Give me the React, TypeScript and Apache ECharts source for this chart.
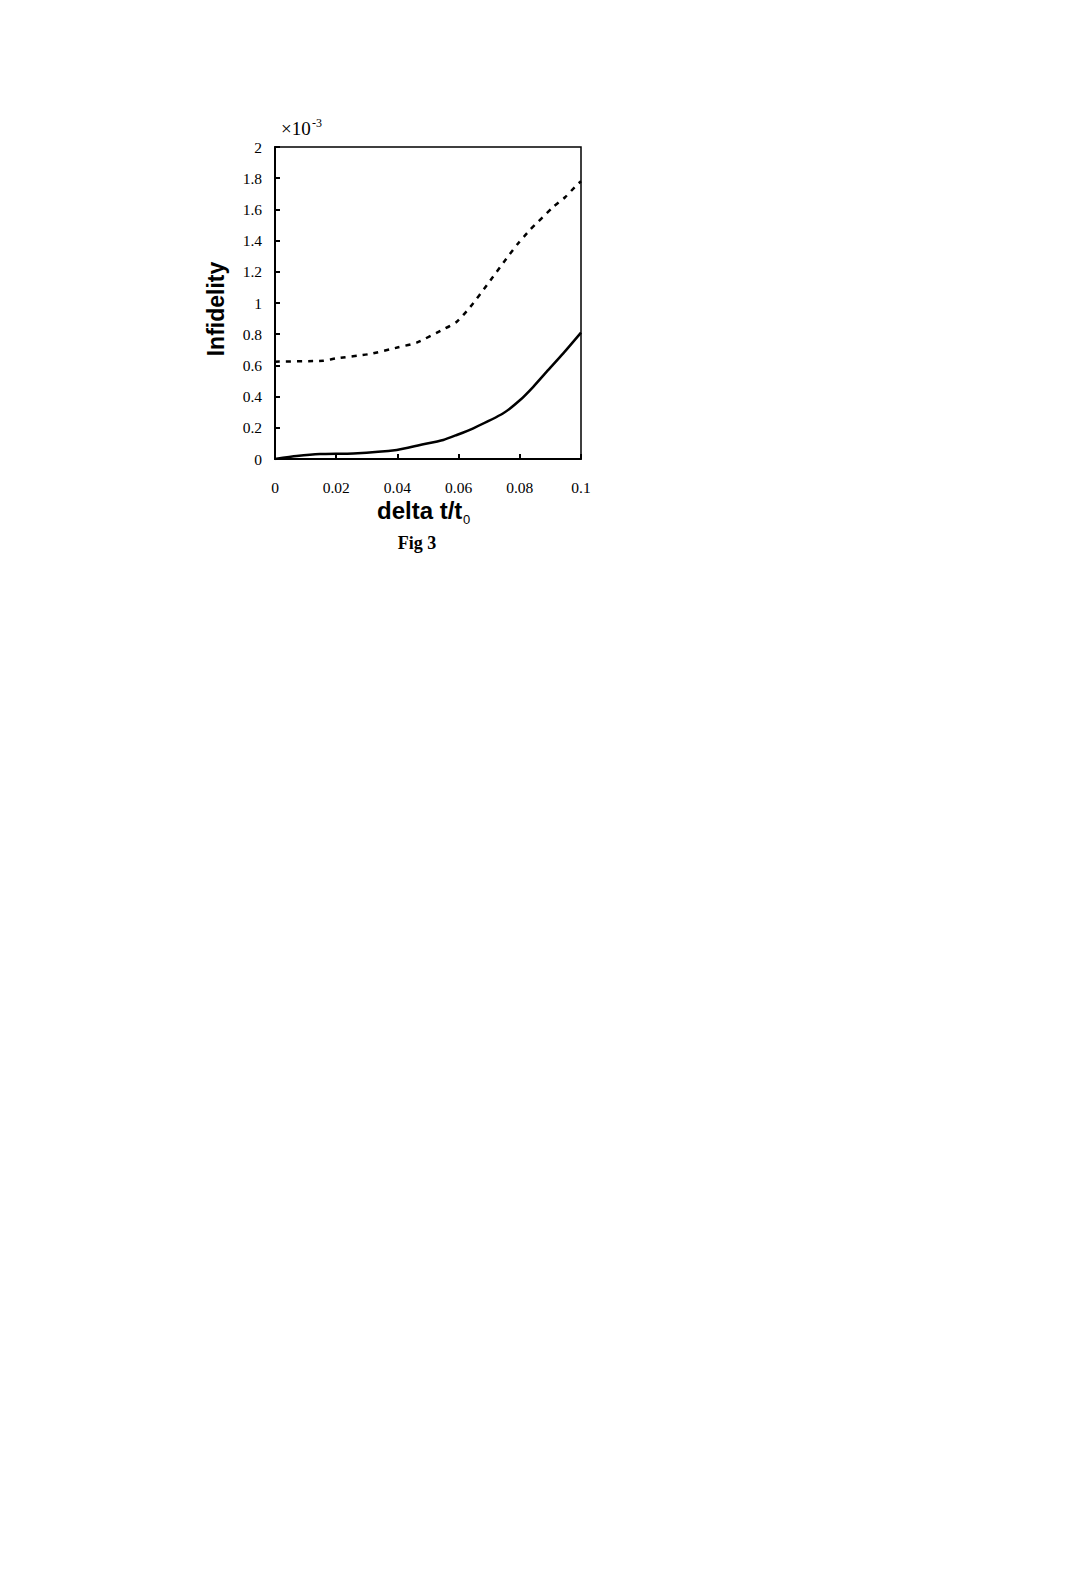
import React, { useEffect, useRef } from "react";
import * as echarts from "echarts";

const xTicks = [0, 0.02, 0.04, 0.06, 0.08, 0.1];
const solidX = [0, 0.0071, 0.0147, 0.0256, 0.0398, 0.0474, 0.055, 0.0594, 0.0648, 0.0746, 0.0801, 0.0844, 0.0888, 0.0942, 0.1];
const solidY = [0, 0.019, 0.032, 0.036, 0.058, 0.09, 0.122, 0.154, 0.197, 0.293, 0.378, 0.463, 0.56, 0.677, 0.81];
const dashedX = [0, 0.0158, 0.02, 0.031, 0.0403, 0.0463, 0.055, 0.0594, 0.0637, 0.0697, 0.0757, 0.0795, 0.0833, 0.091, 0.0948, 0.0986, 0.1];
const dashedY = [0.624, 0.63, 0.645, 0.673, 0.716, 0.746, 0.831, 0.88, 0.972, 1.126, 1.287, 1.383, 1.468, 1.617, 1.678, 1.756, 1.78];

const serif = "Liberation Serif";
const sans = "Liberation Sans";

export default function App() {
  const ref = useRef<HTMLDivElement>(null);
  useEffect(() => {
    if (!ref.current) return;
    const chart = echarts.init(ref.current, null, { renderer: "svg" });
    chart.setOption({
      animation: false,
      backgroundColor: "#fff",
      grid: {
        left: 275,
        top: 147,
        width: 306,
        height: 312,
        show: true,
        borderColor: "#000",
        borderWidth: 1.5,
        containLabel: false,
      },
      xAxis: {
        type: "value",
        min: 0,
        max: 0.1,
        interval: 0.02,
        axisLine: { show: true, lineStyle: { color: "#000", width: 2 } },
        axisTick: { show: true, inside: true, length: 5, lineStyle: { color: "#000", width: 2 } },
        splitLine: { show: false },
        axisLabel: {
          margin: 20,
          color: "#000",
          fontFamily: serif,
          fontSize: 15.5,
          formatter: (v: number) => {
            const m = xTicks.find((t) => Math.abs(t - v) < 1e-9);
            return m === undefined ? "" : String(m);
          },
        },
      },
      yAxis: {
        type: "value",
        min: 0,
        max: 2,
        interval: 0.2,
        axisLine: { show: true, lineStyle: { color: "#000", width: 2 } },
        axisTick: { show: true, inside: true, length: 5, lineStyle: { color: "#000", width: 2 } },
        splitLine: { show: false },
        axisLabel: {
          margin: 13,
          color: "#000",
          fontFamily: serif,
          fontSize: 15.5,
          formatter: (v: number) => String(Math.round(v * 10) / 10),
        },
      },
      series: [
        {
          type: "line",
          data: solidX.map((x, i) => [x, solidY[i]]),
          showSymbol: false,
          smooth: 0.2,
          lineStyle: { color: "#000", width: 2.5 },
        },
        {
          type: "line",
          data: dashedX.map((x, i) => [x, dashedY[i]]),
          showSymbol: false,
          smooth: 0.2,
          lineStyle: { color: "#000", width: 2.5, type: [5, 6] },
        },
      ],
      graphic: [
        {
          type: "text",
          x: 281,
          y: 138,
          style: { text: "×10", fontSize: 19, fontFamily: serif, fill: "#000", verticalAlign: "bottom" },
        },
        {
          type: "text",
          x: 312,
          y: 129,
          style: { text: "-3", fontSize: 12, fontFamily: serif, fill: "#000", verticalAlign: "bottom" },
        },
        {
          type: "text",
          x: 216,
          y: 309,
          rotation: Math.PI / 2,
          style: {
            text: "Infidelity",
            fontSize: 23,
            fontWeight: "bold",
            fontFamily: sans,
            fill: "#000",
            align: "center",
            verticalAlign: "middle",
          },
        },
        {
          type: "text",
          x: 377,
          y: 522,
          style: { text: "delta t/t", fontSize: 24, fontWeight: "bold", fontFamily: sans, fill: "#000", verticalAlign: "bottom" },
        },
        {
          type: "text",
          x: 463,
          y: 526,
          style: { text: "0", fontSize: 13, fontFamily: sans, fill: "#000", verticalAlign: "bottom" },
        },
        {
          type: "text",
          x: 417,
          y: 552,
          style: {
            text: "Fig 3",
            fontSize: 18,
            fontWeight: "bold",
            fontFamily: serif,
            fill: "#000",
            align: "center",
            verticalAlign: "bottom",
          },
        },
      ],
    });
    return () => chart.dispose();
  }, []);
  return (
    <div
      ref={ref}
      style={{ position: "fixed", left: 0, top: 0, width: 1092, height: 1572, background: "#fff" }}
    />
  );
}
